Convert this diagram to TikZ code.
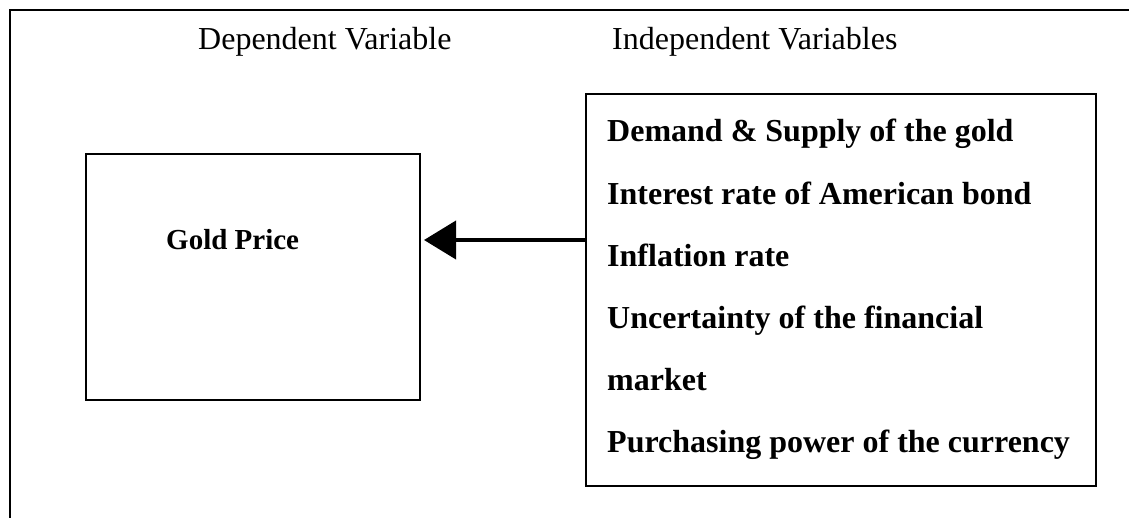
\documentclass[tikz,border=0pt]{standalone}
\usepackage{fontspec}
\setmainfont{Liberation Serif}
\usetikzlibrary{arrows.meta}
\tikzset{
  frame/.style={line width=2.5pt, line cap=rect},
  boxnode/.style={draw, line width=2pt, inner sep=0pt},
  head/.style={font=\fontsize{32}{38}\selectfont, anchor=base west, inner sep=0pt},
  item/.style={font=\fontsize{32}{38}\selectfont\bfseries, anchor=base west, inner sep=0pt},
  link/.style={line width=4pt, -{Triangle[length=32pt,width=38pt]}, shorten >=3pt}
}
\begin{document}
\begin{tikzpicture}[x=1pt,y=-1pt]
\useasboundingbox (0,0) rectangle (1129,518);
\draw[frame] (10,520) -- (10,10) -- (1131,10);
\node[head] (dv) at (198,50) {Dependent Variable};
\node[head] (iv) at (612,50) {Independent Variables};
\node[boxnode, minimum width=334pt, minimum height=246pt] (lb) at (253,277) {};
\node[boxnode, minimum width=510pt, minimum height=392pt] (rb) at (841,290) {};
\node[item, font=\fontsize{29}{34}\selectfont\bfseries] (gp) at (166,250) {Gold Price};
\node[item] (i1) at (607,142) {Demand \& Supply of the gold};
\node[item] (i2) at (607,205) {Interest rate of American bond};
\node[item] (i3) at (607,267) {Inflation rate};
\node[item] (i4) at (607,329) {Uncertainty of the financial};
\node[item] (i5) at (607,390) {market};
\node[item] (i6) at (607,452) {Purchasing power of the currency};
\draw[link] (rb.west |- 0,240) -- (lb.east |- 0,240);
\end{tikzpicture}
\end{document}
